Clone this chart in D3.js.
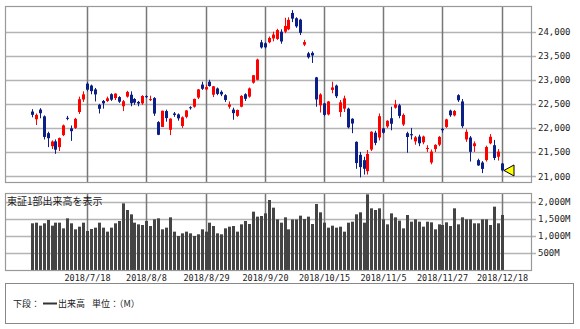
<!DOCTYPE html>
<html>
<head>
<meta charset="utf-8">
<script src="https://cdn.jsdelivr.net/npm/d3@7"></script>
<style>
body { margin: 0; background: #fff; }
text { font-family: 'DejaVu Sans Mono', monospace; fill: #222; }
.jp { font-family: 'Noto Sans CJK JP', sans-serif; }
</style>
</head>
<body>
<svg width="580" height="329"></svg>
<script>
// trading days, 2018/6/27 .. 2018/12/18
const dates = [
  '6/27','6/28','6/29','7/2','7/3','7/4','7/5','7/6','7/9','7/10',
  '7/11','7/12','7/13','7/17','7/18','7/19','7/20','7/23','7/24','7/25',
  '7/26','7/27','7/30','7/31','8/1','8/2','8/3','8/6','8/7','8/8',
  '8/9','8/10','8/13','8/14','8/15','8/16','8/17','8/20','8/21','8/22',
  '8/23','8/24','8/27','8/28','8/29','8/30','8/31','9/3','9/4','9/5',
  '9/6','9/7','9/10','9/11','9/12','9/13','9/14','9/18','9/19','9/20',
  '9/21','9/25','9/26','9/27','9/28','10/1','10/2','10/3','10/4','10/5',
  '10/9','10/10','10/11','10/12','10/15','10/16','10/17','10/18','10/19','10/22',
  '10/23','10/24','10/25','10/26','10/29','10/30','10/31','11/1','11/2','11/5',
  '11/6','11/7','11/8','11/9','11/12','11/13','11/14','11/15','11/16','11/19',
  '11/20','11/21','11/22','11/26','11/27','11/28','11/29','11/30','12/3','12/4',
  '12/5','12/6','12/7','12/10','12/11','12/12','12/13','12/14','12/17','12/18'
].map(d => '2018/' + d);

const opens = [
  22340,22180,22380,22240,21890,21620,21720,21600,21850,22210,
  21990,22000,22330,22590,22920,22880,22800,22480,22560,22560,
  22700,22620,22640,22450,22650,22690,22600,22540,22510,22660,
  22590,22620,22120,22020,22350,21960,22300,22280,22040,22230,
  22430,22440,22630,22900,22800,22960,22690,22820,22750,22680,
  22440,22380,22250,22440,22700,22650,22940,23000,23780,23760,
  23780,23860,23850,24000,24000,24050,24390,24280,24250,23730,
  23550,23560,23050,22470,22510,22280,22790,22880,22330,22400,
  22400,22190,21710,21440,21330,21100,21550,21900,21800,21990,
  22030,22200,22420,22470,22070,21890,21870,21720,21820,21700,
  21560,21280,21560,21650,21980,22020,22360,22260,22680,22550,
  21760,21800,21620,21330,21280,21330,21680,21640,21400,21260
];
const highs = [
  22390,22300,22410,22260,21920,21740,21760,21800,22070,22250,
  22050,22210,22650,22760,22950,22900,22830,22500,22580,22650,
  22720,22720,22660,22580,22770,22760,22620,22560,22680,22680,
  22670,22640,22140,22360,22380,22200,22330,22300,22240,22370,
  22450,22610,22810,22960,22900,23000,22870,22840,22780,22700,
  22550,22420,22380,22680,22720,22840,23100,23440,23830,23780,
  23900,24000,24060,24050,24290,24300,24448,24300,24270,23830,
  23580,23590,23060,22720,22520,22560,22960,22900,22580,22670,
  22420,22200,21720,21500,21400,21540,21930,21940,22300,22000,
  22160,22440,22583,22500,22300,21920,22000,21830,21860,21840,
  21640,21550,21660,21830,22000,22190,22380,22370,22700,22600,
  21970,21830,21720,21360,21310,21630,21870,21750,21560,21270
];
const lows = [
  22220,22060,22200,21760,21600,21560,21460,21520,21830,22160,
  21730,21980,22290,22540,22760,22700,22550,22300,22400,22540,
  22560,22580,22520,22350,22630,22450,22480,22450,22480,22620,
  22560,22250,21850,22020,22130,21850,22230,22150,22000,22200,
  22380,22420,22600,22790,22780,22860,22640,22680,22660,22540,
  22400,22170,22230,22430,22560,22630,22920,22990,23650,23650,
  23760,23800,23830,23750,23970,24030,24200,24080,23930,23700,
  23440,23350,22440,22320,22240,22260,22720,22620,22230,22330,
  21990,21890,21150,20971,21030,21030,21520,21640,21740,21880,
  22000,21950,22400,22200,22040,21484,21760,21650,21620,21660,
  21500,21243,21500,21620,21900,22000,22230,22240,22540,22000,
  21710,21300,21500,21210,21060,21300,21660,21330,21320,21090
];
const closes = [
  22272,22270,22305,21812,21786,21717,21547,21788,22052,22197,
  21932,22188,22597,22698,22794,22765,22697,22397,22510,22614,
  22587,22713,22545,22554,22747,22513,22525,22507,22663,22644,
  22598,22298,21857,22356,22204,22192,22270,22199,22220,22363,
  22411,22602,22800,22813,22848,22870,22865,22707,22697,22581,
  22488,22307,22373,22665,22605,22821,23095,23421,23673,23675,
  23870,23940,24034,23797,24120,24246,24271,24111,23976,23784,
  23469,23506,22591,22695,22271,22549,22841,22658,22532,22615,
  22011,22091,21269,21185,21150,21457,21920,21688,22244,21899,
  22148,22086,22487,22250,22270,21811,21846,21804,21680,21821,
  21583,21508,21647,21812,21952,22177,22263,22351,22575,22036,
  21919,21502,21679,21220,21148,21603,21816,21375,21507,21115
];
// TSE 1st section volume, millions of shares
const volumes = [
  1367,1386,1298,1367,1464,1298,1386,1386,1220,1513,
  1367,1191,1269,1386,1142,1201,1240,1386,1240,1123,
  1240,1367,1435,1952,1757,1630,1386,1337,1318,1435,
  1288,1484,1513,1191,1240,1542,1123,996,1074,1123,
  1074,996,1045,1191,1123,1386,1288,1074,1045,1220,
  1269,1288,1123,1337,1435,1347,1708,1562,1581,1659,
  2050,1825,1484,1386,1542,1191,1480,1480,1591,1493,
  1562,1347,1933,1689,1386,1240,1298,1240,1269,1123,
  1386,1415,1630,1689,1386,2216,1806,1757,1806,1484,
  1337,1659,1542,1445,1220,1611,1415,1484,1415,1269,
  1415,1396,1191,1337,1318,1396,1288,1806,1337,1542,
  1484,1484,1367,1367,1484,1484,1318,1855,1367,1611
];

const priceTicks = [21000, 21500, 22000, 22500, 23000, 23500, 24000];
const volumeTicks = [500, 1000, 1500, 2000];
const dateTicks = ['2018/7/18','2018/8/8','2018/8/29','2018/9/20','2018/10/15','2018/11/5','2018/11/27','2018/12/18'];

const MAIN = { left: 5, right: 531, top: 6, bottom: 182 };
const VOL = { left: 5, right: 531, top: 193, bottom: 270 };
const UP = '#ff0000', DOWN = '#0c1f86';

const candles = dates.map((d, i) => ({
  date: d, open: opens[i], high: highs[i], low: lows[i], close: closes[i], volume: volumes[i]
}));

const x = d3.scaleBand()
  .domain(dates)
  .range([30.3, 504.2]);
const y = d3.scaleLinear()
  .domain([21000, 24000])
  .range([176, 31.7]);
const yVol = d3.scaleLinear()
  .domain([0, 2000])
  .range([270, 201.7]);

const cx = d => Math.round(x(d) + x.bandwidth() / 2 - 1.5);

const svg = d3.select('svg');
svg.append('rect').attr('width', 580).attr('height', 329).attr('fill', '#fff');

svg.append('defs').append('clipPath').attr('id', 'volclip')
  .append('rect')
  .attr('x', VOL.left).attr('y', VOL.top)
  .attr('width', VOL.right - VOL.left).attr('height', VOL.bottom - VOL.top);

// ---- price panel grid
const main = svg.append('g');
main.selectAll('.hgrid')
  .data(priceTicks)
  .enter()
  .append('line')
  .attr('x1', MAIN.left).attr('x2', MAIN.right + 5)
  .attr('y1', d => Math.round(y(d)) + 0.5).attr('y2', d => Math.round(y(d)) + 0.5)
  .attr('stroke', '#b4b4b4').attr('stroke-width', 1.5);
main.selectAll('.vgrid')
  .data(dateTicks)
  .enter()
  .append('line')
  .attr('x1', d => cx(d) + 1.5).attr('x2', d => cx(d) + 1.5)
  .attr('y1', MAIN.top).attr('y2', MAIN.bottom)
  .attr('stroke', '#777').attr('stroke-width', 1.5);
main.append('rect')
  .attr('x', MAIN.left + 0.5).attr('y', MAIN.top + 0.5)
  .attr('width', MAIN.right - MAIN.left).attr('height', MAIN.bottom - MAIN.top)
  .attr('fill', 'none').attr('stroke', '#999').attr('stroke-width', 1.2);
main.selectAll('.plabel')
  .data(priceTicks)
  .enter()
  .append('text')
  .attr('x', 538)
  .attr('y', d => y(d) + 3.5)
  .attr('font-size', 9)
  .text(d => d3.format(',')(d));

// ---- candles
const candleG = main.append('g');
candleG.selectAll('.wick')
  .data(candles)
  .enter()
  .append('line')
  .attr('x1', d => cx(d.date) + 1.5).attr('x2', d => cx(d.date) + 1.5)
  .attr('y1', d => y(d.high)).attr('y2', d => y(d.low))
  .attr('stroke', d => d.close >= d.open ? UP : DOWN)
  .attr('stroke-width', 1);
candleG.selectAll('.body')
  .data(candles)
  .enter()
  .append('rect')
  .attr('x', d => cx(d.date))
  .attr('width', 3)
  .attr('y', d => y(Math.max(d.open, d.close)))
  .attr('height', d => Math.max(1, Math.abs(y(d.open) - y(d.close))))
  .attr('fill', d => d.close >= d.open ? UP : DOWN);

// last close marker
const last = candles[candles.length - 1];
const mx = cx(last.date) + 3, my = y(last.close);
main.append('path')
  .attr('d', `M${mx},${my} L${mx + 10},${my - 5.5} L${mx + 10},${my + 5.5} Z`)
  .attr('fill', '#ffff00').attr('stroke', '#000').attr('stroke-width', 1);

// ---- volume panel
const vol = svg.append('g');
vol.selectAll('.vhgrid')
  .data(volumeTicks)
  .enter()
  .append('line')
  .attr('x1', VOL.left).attr('x2', VOL.right + 5)
  .attr('y1', d => Math.round(yVol(d)) + 0.5).attr('y2', d => Math.round(yVol(d)) + 0.5)
  .attr('stroke', '#b4b4b4').attr('stroke-width', 1.5);
vol.selectAll('.vvgrid')
  .data(dateTicks)
  .enter()
  .append('line')
  .attr('x1', d => cx(d) + 1.5).attr('x2', d => cx(d) + 1.5)
  .attr('y1', VOL.top).attr('y2', VOL.bottom)
  .attr('stroke', '#777').attr('stroke-width', 1.5);
vol.append('text')
  .attr('class', 'jp')
  .attr('x', 7).attr('y', 205)
  .attr('font-size', 10)
  .text('東証1部出来高を表示');
vol.append('g')
  .attr('clip-path', 'url(#volclip)')
  .selectAll('.vbar')
  .data(candles)
  .enter()
  .append('rect')
  .attr('x', d => cx(d.date))
  .attr('width', 3)
  .attr('y', d => yVol(d.volume))
  .attr('height', d => yVol(0) - yVol(d.volume))
  .attr('fill', '#444');
vol.append('rect')
  .attr('x', VOL.left + 0.5).attr('y', VOL.top + 0.5)
  .attr('width', VOL.right - VOL.left).attr('height', VOL.bottom - VOL.top)
  .attr('fill', 'none').attr('stroke', '#999').attr('stroke-width', 1.2);
vol.selectAll('.vlabel')
  .data(volumeTicks)
  .enter()
  .append('text')
  .attr('x', 538)
  .attr('y', d => yVol(d) + 3.5)
  .attr('font-size', 9)
  .text(d => d3.format(',')(d) + 'M');

// date labels
svg.selectAll('.dlabel')
  .data(dateTicks)
  .enter()
  .append('text')
  .attr('x', d => cx(d) + 1.5)
  .attr('y', 281)
  .attr('text-anchor', 'middle')
  .attr('font-size', 8.5)
  .text(d => d);

// ---- legend box
const legend = svg.append('g');
legend.append('rect')
  .attr('x', 5.5).attr('y', 283.5).attr('width', 568).attr('height', 40)
  .attr('fill', 'none').attr('stroke', '#888').attr('stroke-width', 1);
legend.append('text').attr('class', 'jp').attr('x', 13).attr('y', 307).attr('font-size', 9).text('下段：');
legend.append('line').attr('x1', 43).attr('x2', 57).attr('y1', 303.5).attr('y2', 303.5)
  .attr('stroke', '#333').attr('stroke-width', 2);
legend.append('text').attr('class', 'jp').attr('x', 58).attr('y', 307).attr('font-size', 9).text('出来高');
legend.append('text').attr('class', 'jp').attr('x', 92).attr('y', 307).attr('font-size', 9).text('単位：（M）');
</script>
</body>
</html>
